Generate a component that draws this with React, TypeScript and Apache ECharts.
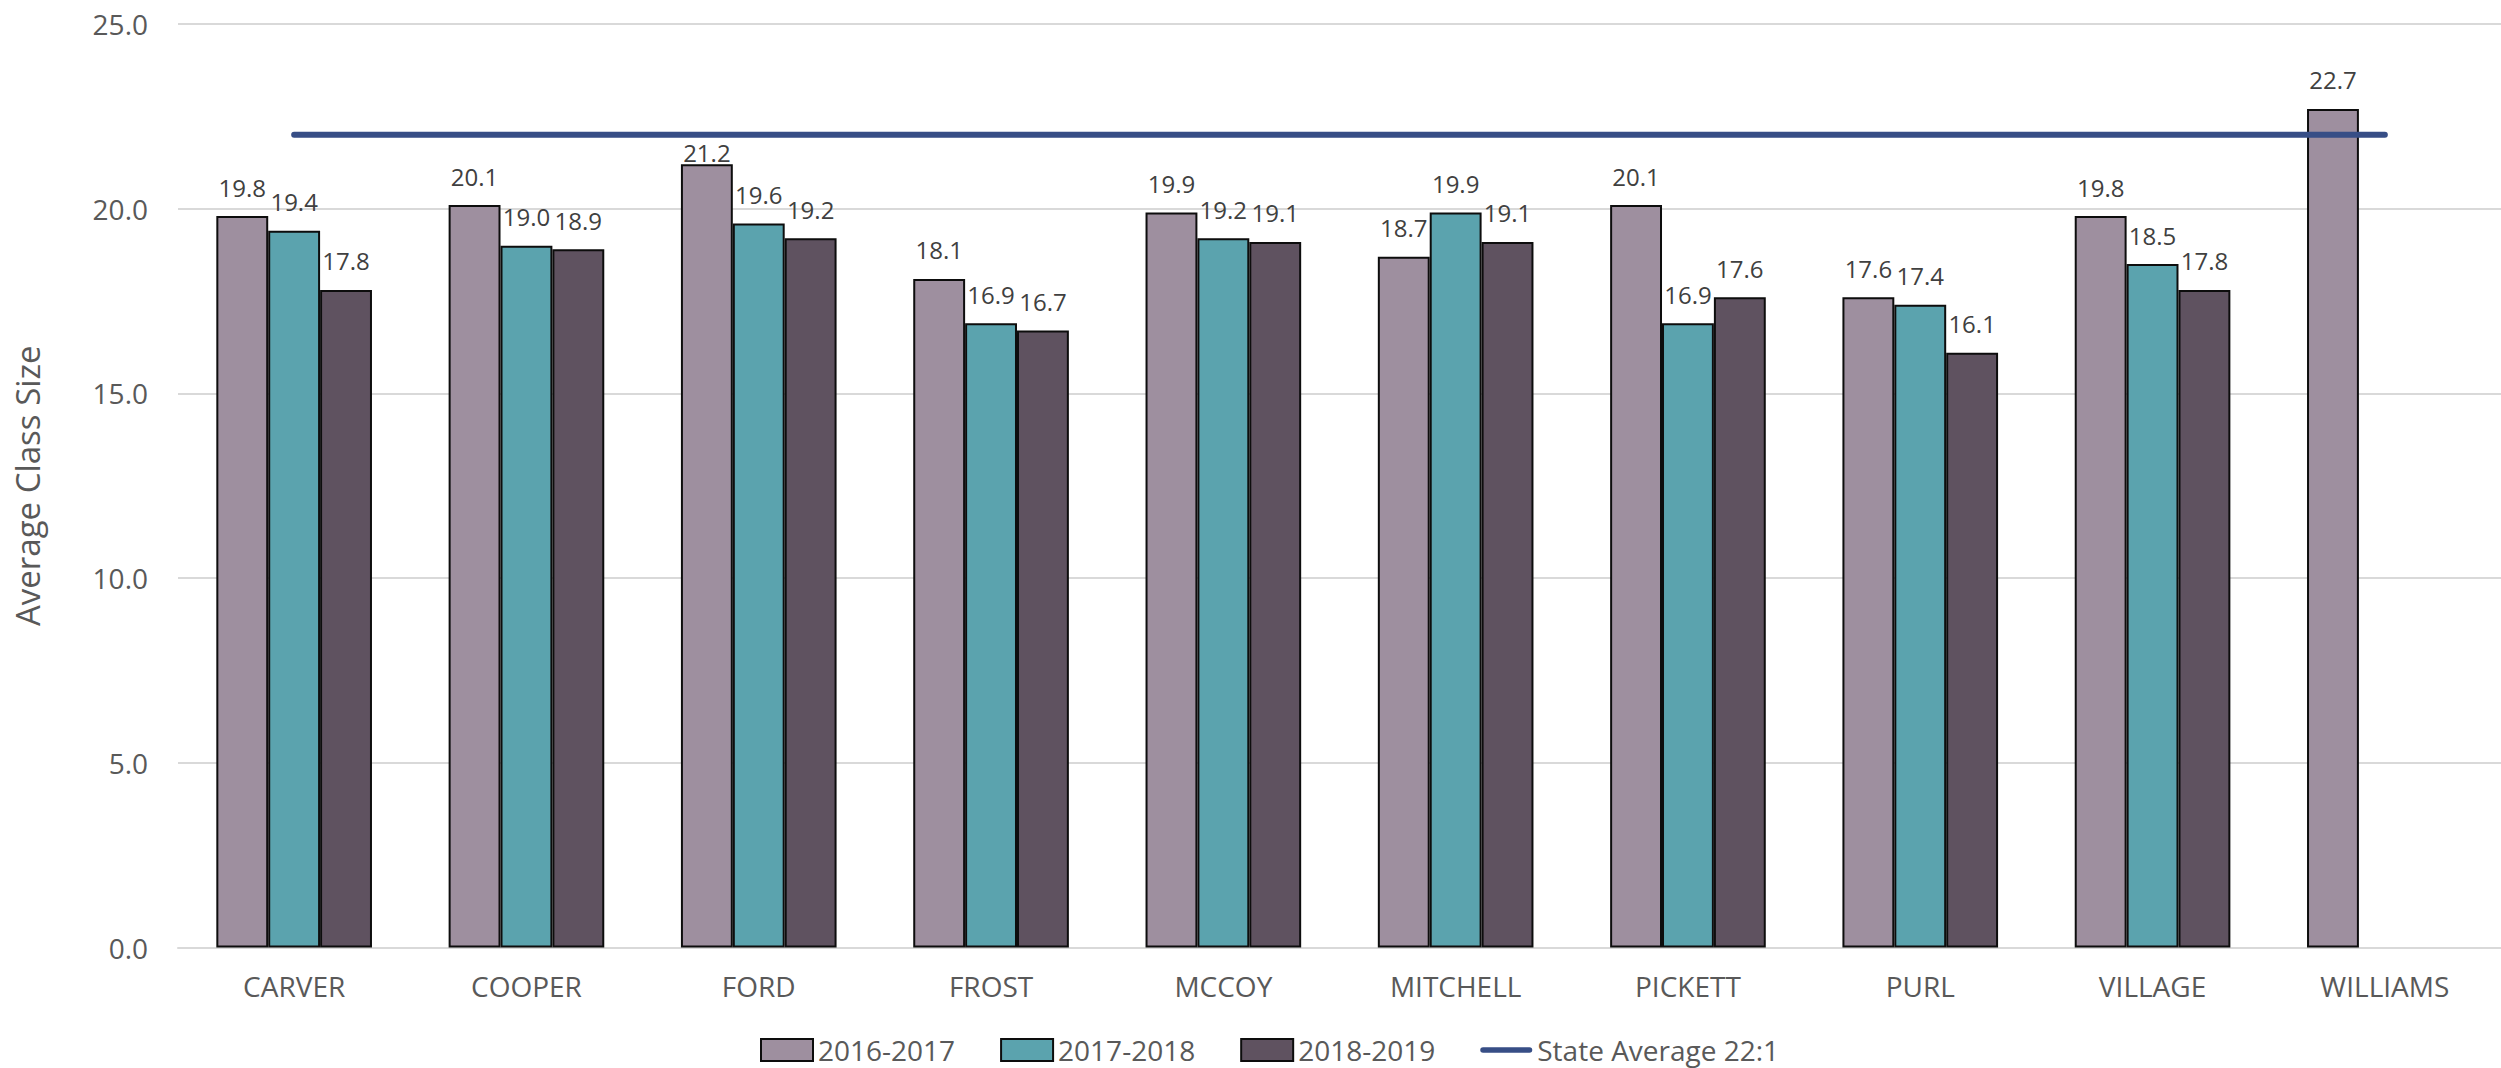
import React, { useEffect, useRef } from "react";
import * as echarts from "echarts";

const categories = ["CARVER", "COOPER", "FORD", "FROST", "MCCOY", "MITCHELL", "PICKETT", "PURL", "VILLAGE", "WILLIAMS"];
const series2016 = [19.8, 20.1, 21.2, 18.1, 19.9, 18.7, 20.1, 17.6, 19.8, 22.7];
const series2017 = [19.4, 19.0, 19.6, 16.9, 19.2, 19.9, 16.9, 17.4, 18.5, null];
const series2018 = [17.8, 18.9, 19.2, 16.7, 19.1, 19.1, 17.6, 16.1, 17.8, null];
const stateAverage = [22, 22, 22, 22, 22, 22, 22, 22, 22, 22];
const seriesNames = ["2016-2017", "2017-2018", "2018-2019", "State Average 22:1"];
const yTicks = { min: 0, max: 25, interval: 5 };

const FONT = "Open Sans";

export default function App() {
  const ref = useRef<HTMLDivElement>(null);
  useEffect(() => {
    if (!ref.current) return;
    const chart = echarts.init(ref.current, undefined, { renderer: "svg" });
    const barLabel = {
      show: true,
      position: "top" as const,
      distance: 17,
      fontFamily: FONT,
      fontSize: 24,
      color: "#404040",
      formatter: (p: any) => (p.value == null ? "" : Number(p.value).toFixed(1)),
    };
    // labels that would collide with the state-average line sit tight on their bar
    const toItems = (data: (number | null)[]) =>
      data.map((v, i) =>
        v != null && v > stateAverage[i] - 1 && v < stateAverage[i]
          ? { value: v, label: { distance: 0 } }
          : v
      );
    const bar = (name: string, data: (number | null)[], color: string) => ({
      name,
      type: "bar",
      data: toItems(data),
      barGap: "0%",
      barCategoryGap: "33%",
      itemStyle: { color, borderColor: "#0d0d0d", borderWidth: 2 },
      label: barLabel,
      emphasis: { disabled: true },
    });
    chart.setOption({
      animation: false,
      backgroundColor: "#ffffff",
      textStyle: { fontFamily: FONT },
      grid: { left: 178, top: 24, width: 2358, height: 923.5, containLabel: false },
      legend: {
        left: 760,
        top: 1036,
        padding: 0,
        itemWidth: 52,
        itemHeight: 22,
        itemGap: 45,
        data: [
          { name: seriesNames[0], icon: "rect" },
          { name: seriesNames[1], icon: "rect" },
          { name: seriesNames[2], icon: "rect" },
          { name: seriesNames[3], icon: "path://M3,0 L53,0 A3,3 0 0 1 53,6 L3,6 A3,3 0 0 1 3,0 Z" },
        ],
        textStyle: { fontFamily: FONT, fontSize: 28, lineHeight: 24, color: "#595959" },
      },
      xAxis: {
        type: "category",
        data: categories,
        axisLine: { show: true, lineStyle: { color: "#d9d9d9", width: 2 } },
        axisTick: { show: false },
        axisLabel: { fontFamily: FONT, fontSize: 28, color: "#595959", margin: 24, interval: 0 },
      },
      yAxis: {
        type: "value",
        min: yTicks.min,
        max: yTicks.max,
        interval: yTicks.interval,
        name: "Average Class Size",
        nameLocation: "middle",
        nameGap: 134,
        nameTextStyle: { fontFamily: FONT, fontSize: 33, color: "#595959" },
        axisLine: { show: false },
        axisTick: { show: false },
        axisLabel: {
          fontFamily: FONT,
          fontSize: 28,
          color: "#595959",
          margin: 30,
          formatter: (v: number) => v.toFixed(1),
        },
        splitLine: { lineStyle: { color: "#d9d9d9", width: 2 } },
      },
      series: [
        bar(seriesNames[0], series2016, "#9e8f9f"),
        bar(seriesNames[1], series2017, "#5ba3ae"),
        bar(seriesNames[2], series2018, "#5f5260"),
        {
          name: seriesNames[3],
          type: "line",
          data: stateAverage,
          symbol: "none",
          z: 5,
          lineStyle: { color: "#374e86", width: 6, cap: "round" },
          itemStyle: { color: "#374e86" },
          emphasis: { disabled: true },
        },
      ],
    });
    return () => chart.dispose();
  }, []);
  return (
    <div
      ref={ref}
      style={{ position: "fixed", left: 0, top: 0, width: 2501, height: 1068, overflow: "hidden", background: "#fff" }}
    />
  );
}
